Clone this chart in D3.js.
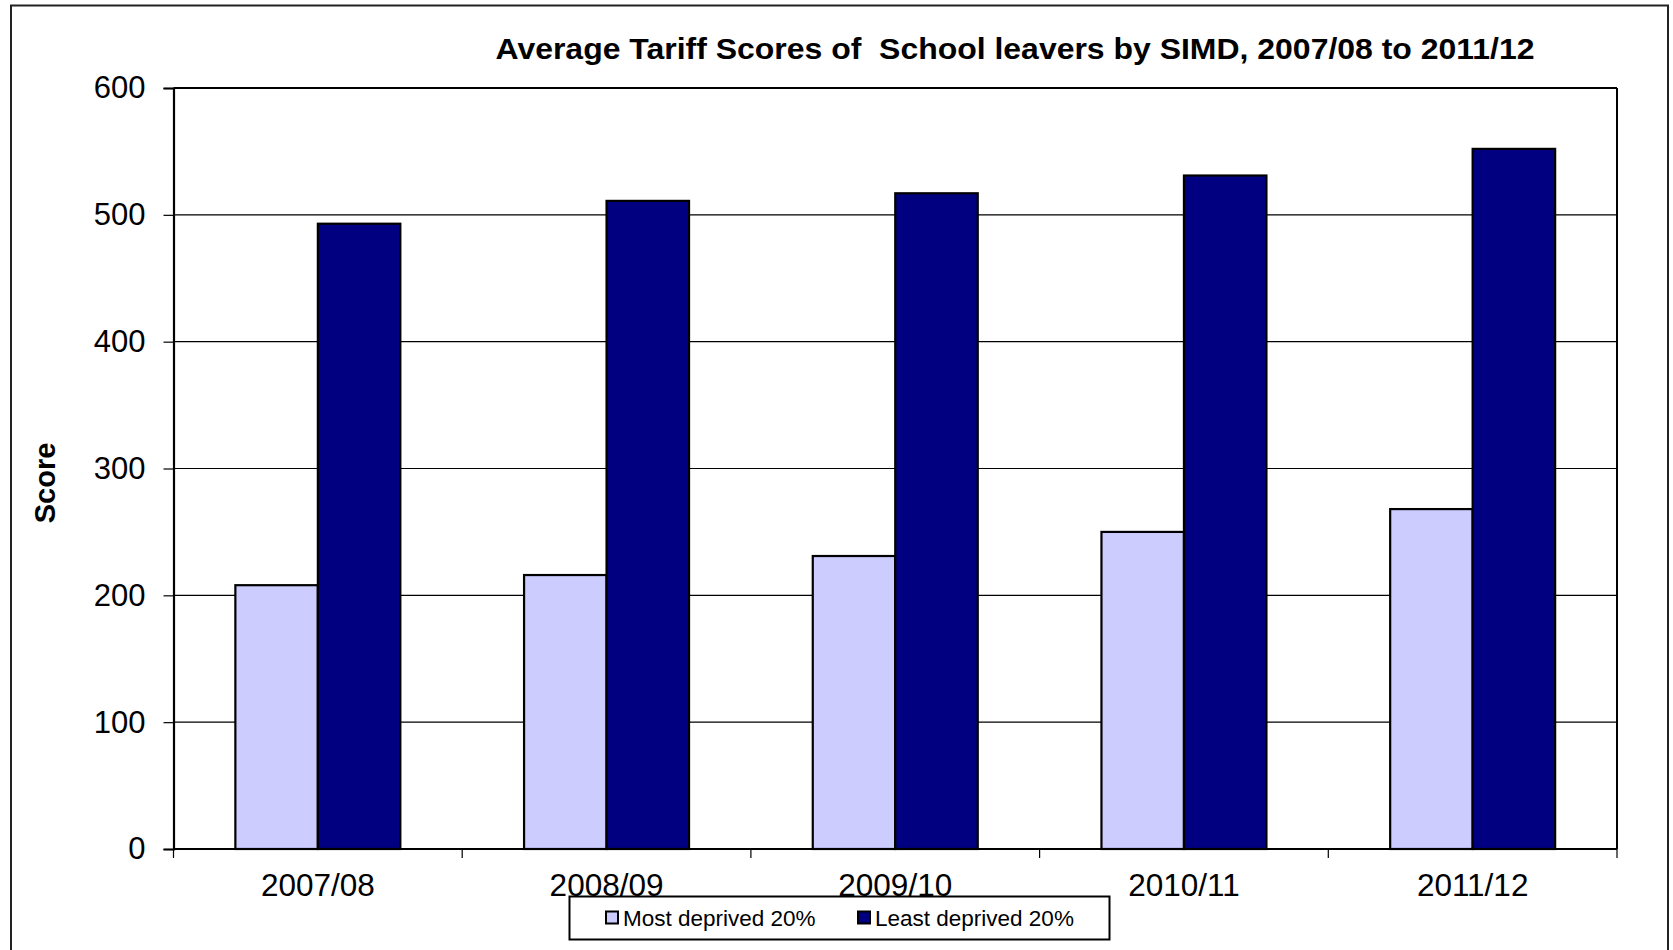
<!DOCTYPE html>
<html>
<head>
<meta charset="utf-8">
<script src="https://cdn.jsdelivr.net/npm/d3@7"></script>
<style>
  html, body { margin: 0; padding: 0; background: #fff; }
  svg { display: block; font-family: "Liberation Sans", Arial, sans-serif; }
</style>
</head>
<body>
<svg id="chart" width="1673" height="950"></svg>
<script>
const categories = ["2007/08", "2008/09", "2009/10", "2010/11", "2011/12"];
const seriesNames = ["Most deprived 20%", "Least deprived 20%"];
const mostDeprived = [208, 216, 231, 250, 268];
const leastDeprived = [493, 511, 517, 531, 552];
const yTicks = [0, 100, 200, 300, 400, 500, 600];
const colors = ["#CCCCFF", "#000080"];

const svg = d3.select("#chart");
const plot = { left: 173.5, right: 1617, top: 88, bottom: 849 };

// outer chart border
svg.append("rect")
  .attr("x", 11).attr("y", 5.5)
  .attr("width", 1657).attr("height", 990)
  .attr("fill", "#fff").attr("stroke", "#222").attr("stroke-width", 2);

const x0 = d3.scaleBand().domain(categories)
  .range([plot.left, plot.right])
  .paddingInner(1.5 / 3.5).paddingOuter(0.75 / 3.5);
const x1 = d3.scaleBand().domain(seriesNames).range([0, x0.bandwidth()]).padding(0);
const y = d3.scaleLinear().domain([0, 600]).range([plot.bottom, plot.top]);

// gridlines
svg.append("g").selectAll("line").data(yTicks.filter(d => d > 0 && d < 600)).join("line")
  .attr("x1", plot.left).attr("x2", plot.right)
  .attr("y1", d => y(d)).attr("y2", d => y(d))
  .attr("stroke", "#000").attr("stroke-width", 1.2);

// bars
const data = categories.map((c, i) => ({ cat: c, values: [mostDeprived[i], leastDeprived[i]] }));
svg.append("g").selectAll("g").data(data).join("g")
  .attr("transform", d => `translate(${x0(d.cat)},0)`)
  .selectAll("rect").data(d => d.values.map((v, j) => ({ name: seriesNames[j], v, j }))).join("rect")
  .attr("x", d => x1(d.name))
  .attr("y", d => y(d.v))
  .attr("width", x1.bandwidth())
  .attr("height", d => y(0) - y(d.v))
  .attr("fill", d => colors[d.j])
  .attr("stroke", "#000").attr("stroke-width", 2.2);

// plot frame top & right
svg.append("line").attr("x1", plot.left).attr("x2", plot.right).attr("y1", plot.top).attr("y2", plot.top)
  .attr("stroke", "#000").attr("stroke-width", 2);
svg.append("line").attr("x1", plot.right).attr("x2", plot.right).attr("y1", plot.top).attr("y2", plot.bottom)
  .attr("stroke", "#000").attr("stroke-width", 2);

// y axis
const yAxis = svg.append("g").attr("transform", `translate(${plot.left},0)`)
  .call(d3.axisLeft(y).tickValues(yTicks).tickSize(10).tickPadding(18).tickFormat(d3.format("d")));
yAxis.select(".domain").attr("stroke", "#000").attr("stroke-width", 2.2);
yAxis.selectAll(".tick line").attr("stroke", "#000").attr("stroke-width", 1.2);
yAxis.selectAll("text").attr("font-size", 31).attr("fill", "#000")
  .attr("font-family", "'Liberation Sans', Arial, sans-serif");

// x axis (ticks at band boundaries)
const xAxisG = svg.append("g").attr("transform", `translate(0,${plot.bottom})`);
xAxisG.append("line").attr("x1", plot.left).attr("x2", plot.right).attr("y1", 0).attr("y2", 0)
  .attr("stroke", "#000").attr("stroke-width", 2.2);
const step = x0.step();
const boundaries = d3.range(categories.length + 1).map(i => plot.left + i * step);
xAxisG.selectAll("line.tk").data(boundaries).join("line").attr("class", "tk")
  .attr("x1", d => d).attr("x2", d => d).attr("y1", 0).attr("y2", 9)
  .attr("stroke", "#000").attr("stroke-width", 1.2);
xAxisG.selectAll("text").data(categories).join("text")
  .attr("x", d => x0(d) + x0.bandwidth() / 2)
  .attr("y", 47)
  .attr("text-anchor", "middle")
  .attr("font-size", 31.5).attr("fill", "#000")
  .text(d => d);

// title
svg.append("text")
  .attr("x", 1015).attr("y", 59)
  .attr("text-anchor", "middle")
  .attr("font-size", 30).attr("font-weight", "bold").attr("fill", "#000")
  .attr("textLength", 1039).attr("lengthAdjust", "spacingAndGlyphs")
  .attr("xml:space", "preserve")
  .text("Average Tariff Scores of  School leavers by SIMD, 2007/08 to 2011/12");

// y axis title
svg.append("text")
  .attr("transform", "translate(55,483) rotate(-90)")
  .attr("text-anchor", "middle")
  .attr("font-size", 29).attr("font-weight", "bold").attr("fill", "#000")
  .text("Score");

// legend
const lg = svg.append("g");
lg.append("rect").attr("x", 569.5).attr("y", 896.5).attr("width", 540).attr("height", 43)
  .attr("fill", "#fff").attr("stroke", "#000").attr("stroke-width", 2);
const legendX = [606, 858];
seriesNames.forEach((name, i) => {
  lg.append("rect").attr("x", legendX[i]).attr("y", 911.5).attr("width", 12).attr("height", 12)
    .attr("fill", colors[i]).attr("stroke", "#000").attr("stroke-width", 2);
  lg.append("text").attr("x", legendX[i] + 17).attr("y", 925.5)
    .attr("font-size", 22.5).attr("fill", "#000").text(name);
});
</script>
</body>
</html>
